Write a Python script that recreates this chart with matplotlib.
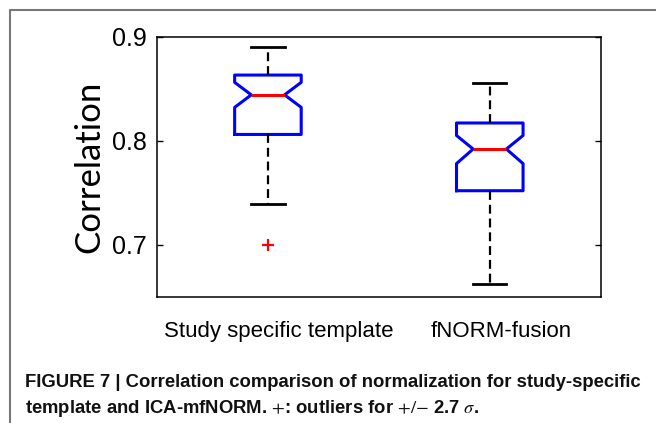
import matplotlib
matplotlib.use("Agg")
import matplotlib.pyplot as plt
import matplotlib.transforms as mtransforms
from matplotlib.lines import Line2D

# ---- data ----
categories = ["Study specific template", "fNORM-fusion"]
medians = [0.844, 0.792]
q1 = [0.806, 0.752]
q3 = [0.863, 0.817]
whislo = [0.739, 0.662]
whishi = [0.890, 0.855]
notch_lo = [0.832, 0.778]
notch_hi = [0.856, 0.805]
outliers = [[0.700], []]
yticks = [0.7, 0.8, 0.9]
ytick_labels = ["0.7", "0.8", "0.9"]
ylabel = "Correlation"
caption1 = "FIGURE 7 | Correlation comparison of normalization for study-specific"
caption2 = r"template and ICA-mfNORM. $+$: outliers for $+/{-}$ 2.7 $\sigma$."

plt.rcParams["mathtext.fontset"] = "stix"

W, H = 656, 423
fig = plt.figure(figsize=(W / 100, H / 100), dpi=100)
fig.patch.set_facecolor("white")

ax = fig.add_axes([157 / W, (H - 297) / H, 443.7 / W, 260.5 / H])

stats = []
for i in range(len(categories)):
    stats.append(dict(med=medians[i], q1=q1[i], q3=q3[i],
                      whislo=whislo[i], whishi=whishi[i],
                      cilo=notch_lo[i], cihi=notch_hi[i],
                      fliers=outliers[i], label=categories[i]))

ax.bxp(stats, positions=[1, 2], widths=0.3, shownotches=True,
       boxprops=dict(color="#0000ff", linewidth=2.2),
       medianprops=dict(color="#ff0000", linewidth=2.2),
       whiskerprops=dict(color="black", linewidth=1.6, linestyle=(0, (4, 2.2))),
       capprops=dict(color="black", linewidth=2.0),
       flierprops=dict(marker="+", markeredgecolor="#ff0000", markersize=8,
                       markeredgewidth=1.6, linestyle="none"))

ax.set_xlim(0.5, 2.5)
ax.set_ylim(0.65, 0.9)
ax.set_yticks(yticks)
ax.set_yticklabels(ytick_labels, fontsize=18, family="Liberation Sans")
ax.set_xticks([1, 2])
ax.set_xticklabels(categories, fontsize=16, family="Liberation Sans")
ax.tick_params(axis="y", direction="in", length=4, width=1, left=True, right=True, pad=7.5)
ax.tick_params(axis="x", length=0, pad=17)
offset = mtransforms.ScaledTranslation(11 / 100, 0, fig.dpi_scale_trans)
for lab in ax.get_xticklabels():
    lab.set_transform(lab.get_transform() + offset)

for sp in ax.spines.values():
    sp.set_linewidth(1.1)
    sp.set_color("black")

ax.set_ylabel(ylabel, fontsize=25, family="Lato")
ax.yaxis.set_label_coords(-0.117, 0.5)

# caption
fig.text(25 / W, 1 - 386.7 / H, caption1, fontsize=13.3, fontweight="bold",
         family="Liberation Sans", va="baseline", ha="left", color="#111111")
fig.text(25 / W, 1 - 413.3 / H, caption2, fontsize=13.3, fontweight="bold",
         family="Liberation Sans", va="baseline", ha="left", color="#111111")

# gray frame
fig.add_artist(Line2D([9.5 / W, 9.5 / W, 1.0], [0.0, 1 - 10.5 / H, 1 - 10.5 / H],
                      transform=fig.transFigure, color="#777777", linewidth=1.5))

fig.savefig("out.png", dpi=100)
